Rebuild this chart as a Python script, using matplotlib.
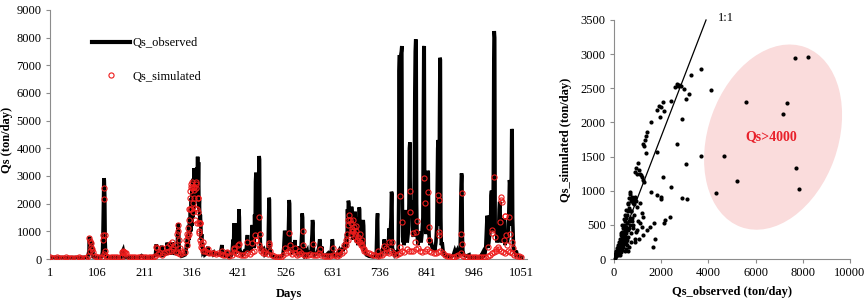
import numpy as np
import matplotlib
matplotlib.use("Agg")
import matplotlib.pyplot as plt
from matplotlib.patches import Ellipse
from matplotlib.lines import Line2D

plt.rcParams['font.family'] = ['Liberation Serif', 'DejaVu Serif']

# ---------------- data: time series ----------------
obs_days = [1, 40, 85, 88, 89, 90, 91, 92, 93, 94, 95, 96, 97, 100, 116, 118, 119, 120, 121, 122, 123, 124, 125, 127,
            160, 162, 164, 166, 168, 200, 205, 210, 230,
            236, 238, 239, 241, 243, 248, 250, 251, 255, 258, 261, 262, 263, 265, 266, 268, 269, 271, 272, 274, 275, 277, 278,
            281, 283, 284, 286, 287, 288, 289, 291, 294, 298,
            302, 304, 306, 308, 309, 310, 311, 312, 313, 314, 315, 316, 317, 318, 319, 320, 321, 322, 323, 324, 325, 326, 327,
            328, 329, 330, 331, 332, 333, 334, 335, 336, 337, 338, 339, 340, 341, 342, 344, 346,
            350, 352, 353, 354, 358, 365, 366, 372, 380, 383, 384, 385, 390, 395, 396, 402,
            405, 407, 409, 410, 411, 412, 413, 415, 416, 418, 419, 420, 421, 422, 423, 424, 427, 430, 434, 436, 438, 440, 441,
            442, 444, 446, 448, 449, 451, 452, 453, 455, 456, 457, 458, 459, 460, 461, 462, 463, 464, 465, 466, 467, 468, 469,
            470, 472, 474, 475, 478, 480, 484, 487, 489, 490, 491, 493, 498,
            515, 520, 522, 524, 525, 526, 528, 530, 532, 534, 535, 536, 538, 540, 541, 545, 547, 548, 552, 556, 557, 560, 562,
            563, 564, 565, 568, 569, 574, 575, 580, 583, 585, 586, 587, 588, 590, 596, 600, 602, 603, 604, 607, 608, 615, 620,
            622, 628, 630, 631, 632, 636, 640, 645, 647,
            650, 652, 654, 656, 657, 659, 660, 662, 663, 664, 665, 666, 667, 668, 669, 670, 671, 672, 673, 674, 675, 676, 677,
            678, 679, 680, 681, 682, 683, 684, 686, 687, 688, 689, 690, 691, 692, 693, 694, 695, 696, 697, 698, 699, 700, 701,
            703, 706, 712,
            720, 728, 730, 731, 732, 735, 740, 743, 744, 746, 747, 748, 750, 751, 754, 756, 757, 758, 761, 762, 763, 764, 766,
            768, 770, 772,
            775, 777, 778, 779, 780, 781, 782, 783, 784, 785, 786, 787, 788, 789, 790, 792, 793, 794, 795, 796, 797, 799, 800,
            801, 802, 803, 804, 805, 806, 807, 808, 809, 811, 812, 813, 814, 815, 816, 817, 818, 819, 821, 823, 825, 826, 828,
            830, 832, 833, 834, 835, 836, 837, 838, 839, 840, 841, 842, 843, 844, 845, 846, 848, 850, 852, 855, 857, 858, 861,
            863, 864, 865, 866, 867, 868, 869, 870, 871, 872, 873, 875, 877, 880, 885,
            895, 900, 903, 905, 908, 910, 915, 916, 917, 918, 919, 920, 921, 923, 928, 935, 936,
            960, 965, 966, 970, 972, 974, 975, 976, 977, 979, 981, 983, 984, 985, 986, 988, 989, 990, 991, 992, 993, 995, 996,
            997, 999, 1001, 1002, 1003, 1004, 1005, 1007, 1009, 1011, 1012, 1013, 1014, 1015, 1017, 1018, 1020, 1022, 1024,
            1025, 1026, 1027, 1029, 1030, 1031, 1032, 1034, 1036, 1038, 1040, 1042, 1046, 1052]
obs_vals = [60, 50, 60, 300, 806, 150, 700, 200, 550, 625, 150, 400, 80, 60, 80, 250, 850, 1800, 2916, 2850, 2300, 600, 200, 70,
            70, 250, 325, 150, 60, 60, 120, 60, 70,
            150, 530, 100, 300, 200, 150, 480, 100, 250, 180, 200, 590, 150, 580, 200, 560, 150, 590, 200, 600, 200, 400, 150,
            300, 500, 200, 1100, 1290, 800, 300, 200, 100, 120,
            150, 300, 600, 900, 400, 1230, 700, 1500, 900, 1800, 1000, 2200, 1200, 2555, 1500, 2900, 1800, 3278, 2000, 3200,
            2200, 3097, 2300, 3300, 2500, 3697, 2400, 3500, 1800, 2132, 1200, 1600, 1290, 700, 900, 400, 567, 250, 300, 150,
            200, 350, 444, 200, 180, 250, 150, 200, 150, 400, 506, 150, 120, 300, 100, 80,
            120, 300, 700, 400, 1290, 1200, 300, 450, 200, 600, 300, 1300, 700, 1795, 1500, 300, 250, 150, 200, 350, 250, 700,
            867, 300, 450, 250, 600, 300, 1100, 1229, 500, 900, 400, 1600, 800, 2800, 3120, 1500, 2000, 900, 2400, 1400, 3000,
            3722, 3600, 1000, 500, 300, 444, 200, 300, 150, 200, 400, 2216, 2150, 400, 150, 80,
            80, 150, 400, 1023, 900, 300, 500, 300, 800, 2132, 2000, 400, 300, 600, 250, 300, 686, 300, 200, 450, 150, 300, 900,
            1650, 1500, 300, 350, 150, 300, 150, 250, 300, 900, 1410, 1300, 300, 150, 200, 400, 711, 650, 200, 450, 150, 120,
            200, 100, 300, 711, 650, 150, 100, 150, 300, 150,
            200, 400, 300, 500, 350, 600, 400, 900, 500, 1800, 1200, 2108, 2000, 800, 1600, 900, 1400, 1000, 1890, 1700, 900,
            1400, 700, 1200, 800, 1500, 1710, 900, 1100, 600, 900, 500, 1500, 1000, 1870, 1800, 600, 900, 500, 700, 400, 1000,
            1300, 1410, 1200, 400, 250, 150, 100,
            80, 100, 1400, 1650, 300, 100, 150, 400, 300, 711, 500, 300, 650, 200, 300, 800, 1108, 400, 1500, 2433, 2350, 400,
            300, 200, 300, 150,
            150, 400, 2000, 6800, 7373, 3000, 5000, 7400, 7500, 7698, 2500, 800, 600, 900, 500, 800, 1500, 1771, 1600, 1200,
            600, 900, 1200, 2000, 4000, 4217, 2000, 1800, 2100, 1600, 1900, 1000, 800, 1500, 3000, 6000, 7500, 7940, 7800,
            2000, 900, 500, 800, 1000, 900, 600, 900, 1500, 5000, 7600, 7698, 2500, 1200, 1800, 900, 1500, 2200, 2800, 3191,
            3100, 1200, 800, 500, 700, 450, 300, 500, 250, 600, 1200, 2500, 4000, 4300, 4200, 1200, 5000, 7275, 7200, 1500,
            500, 600, 300, 150, 100,
            80, 150, 300, 200, 300, 120, 200, 1500, 2500, 3096, 3000, 800, 300, 150, 100, 150, 60,
            60, 220, 80, 150, 400, 1200, 1566, 1500, 400, 600, 900, 1500, 2300, 2470, 1200, 1000, 3000, 7000, 8240, 8000, 1200,
            1000, 1170, 600, 900, 1200, 1800, 2070, 2000, 600, 800, 700, 1000, 1400, 1470, 1300, 500, 900, 940, 600, 800, 2000,
            2855, 2700, 1200, 3000, 4700, 4600, 1500, 400, 300, 200, 300, 150, 100, 60]

# simulated: background values every 5 days (days 1, 6, ..., 1051)
sim_base_vals = [60, 50, 45, 55, 50, 45, 50, 55, 50, 45,
                 50, 45, 50, 55, 50, 45, 50, 120, 300, 250,
                 120, 80, 70, 80, 180, 120, 80, 70, 60, 55,
                 55, 60, 70, 250, 200, 90, 70, 60, 55, 60,
                 65, 70, 90, 80, 70, 75, 80, 100, 180, 200,
                 150, 220, 250, 280, 300, 350, 250, 200, 180, 220,
                 250, 500, 900, 1800, 2600, 2700, 2200, 1300, 600, 300,
                 250, 220, 200, 220, 180, 200, 180, 160, 150, 200,
                 120, 150, 250, 200, 180, 150, 140, 160, 200, 180,
                 250, 300, 700, 500, 300, 200, 220, 180, 300, 150,
                 100, 90, 80, 80, 150, 200, 300, 250, 180, 200,
                 150, 180, 200, 160, 150, 140, 170, 150, 130, 140,
                 200, 150, 120, 110, 100, 120, 130, 150, 110, 150,
                 200, 300, 500, 700, 900, 1000, 800, 700, 600, 500,
                 350, 250, 200, 180, 150, 140, 120, 160, 130, 200,
                 250, 200, 300, 200, 150, 180, 200, 300, 250, 350,
                 300, 280, 300, 350, 400, 300, 250, 300, 350, 300,
                 250, 200, 220, 250, 300, 200, 150, 120, 100, 90,
                 80, 100, 150, 200, 120, 90, 80, 70, 60, 60,
                 60, 55, 60, 70, 80, 100, 150, 200, 250, 300,
                 350, 300, 250, 200, 300, 250, 200, 150, 120, 100,
                 80]
sim_event_days = [89, 90, 92, 93, 95, 119, 120, 121, 122, 123, 124, 162, 164, 166, 168,
                  238, 239, 250, 262, 268, 272, 276, 280, 284, 286, 287, 288, 290, 292,
                  304, 306, 308, 309, 310, 311, 312, 313, 314, 315, 316, 317, 318, 319, 320, 321, 322, 323, 324, 325,
                  326, 327, 328, 329, 330, 331, 332, 333, 334, 335, 336, 337, 338, 340, 342,
                  353, 384, 395, 410, 411, 421, 422, 441, 452, 458, 460, 467, 468, 470, 478, 489, 490,
                  524, 534, 535, 547, 556, 564, 565, 587, 603, 631, 645,
                  656, 660, 662, 664, 666, 668, 670, 672, 673, 675, 676, 678, 680, 682, 684, 686, 688, 690, 692, 694,
                  696, 698, 700,
                  731, 746, 750, 757, 763, 780, 781, 785, 803, 804, 810, 815, 817, 818, 835, 836, 844, 845, 846,
                  866, 867, 868, 869,
                  918, 919, 920, 976, 986, 987, 991, 992, 995, 1000, 1004, 1005, 1006, 1008, 1012, 1015, 1016,
                  1018, 1020, 1023, 1026, 1030, 1032]
sim_event_vals = [760, 650, 580, 450, 350, 700, 850, 2566, 2168, 880, 300, 250, 300, 250, 200,
                  450, 400, 380, 420, 550, 600, 450, 500, 900, 1230, 1000, 700, 400, 300,
                  700, 900, 1108, 831, 1400, 1800, 1795, 2193, 2450, 2600, 2710, 2550, 2794, 2013, 1710, 2500, 2600,
                  2200, 1850, 1410, 2794, 2555, 1795, 1300, 1700, 2200, 1290, 928, 1000, 1300, 700, 567, 450, 400,
                  300,
                  350, 300, 250, 350, 400, 506, 550, 600, 567, 867, 700, 1507, 900, 400, 300, 567, 500,
                  400, 928, 500, 400, 300, 1012, 500, 550, 350, 400, 300,
                  500, 700, 900, 1229, 1400, 1590, 1410, 1300, 1100, 1000, 1410, 1150, 900, 1000, 1200, 700, 800, 600,
                  900, 500, 700, 400, 300,
                  300, 470, 400, 600, 625, 2288, 440, 1350, 2470, 1690, 928, 625, 986, 1384, 2938, 2035, 2410, 1146,
                  687, 2313, 880, 987, 2130,
                  893, 2374, 531, 444, 1048, 925, 2952, 800, 350, 450, 1350, 2230, 2150, 2070, 700, 1554, 1554,
                  867, 500, 1507, 904, 600, 400]

day_ticks = [1, 106, 211, 316, 421, 526, 631, 736, 841, 946, 1051]

# ---------------- data: scatter ----------------
scatter_obs = [7669, 8234, 5593, 7345, 7147, 4647, 7698, 5226, 4308, 7853,
               3701, 4110, 3249, 3178, 3051, 2980, 2768, 2585, 2670, 2720, 2850, 2415, 2895, 1949, 2006, 1907, 1808,
               2062, 2119, 1568, 1398, 1356, 1328, 1243, 1280, 2684, 3701, 3037, 1808, 1356, 2062, 2415, 2867, 3079,
               1568, 1808, 1977, 2000, 2359, 2161, 2130, 1695, 1525, 1737, 1638, 1243, 1384, 1003, 932, 890, 960,
               1158, 1243, 1100, 1059, 1200, 1271,
               678, 749, 890, 819, 607, 960, 1102, 1172, 1243, 1102, 960, 1172,
               30, 50, 60, 80, 100, 100, 120, 140, 150, 160, 180, 190, 200, 210, 220, 230, 240, 250, 260, 270, 280,
               290, 300, 310, 320, 330, 340, 350, 360, 370, 380, 390, 400, 410, 420, 430, 440, 450, 460, 470, 480,
               490, 500, 510, 520, 540, 550, 560, 580, 600, 600, 620, 640, 650, 670, 690, 700, 720, 740, 760, 780,
               800, 820, 850, 880, 900, 950, 1000, 1050, 700, 650, 600, 550, 500, 450, 400, 350, 300, 250, 200,
               150, 80, 40, 20, 10, 620, 680, 580, 520, 480, 420, 360, 700, 750, 800, 850, 900, 950]
scatter_sim = [2939, 2953, 2294, 2285, 2123, 1503, 1338, 1142, 962, 1020,
               2782, 2475, 2690, 2411, 2348, 2490, 2548, 2514, 2558, 2530, 2540, 2314, 2050, 2075, 2221, 2240, 2181,
               2294, 2172, 2001, 1865, 1800, 1743, 1684, 1660, 1684, 1513, 1386, 1562, 1552, 1206, 1054, 898, 879,
               986, 942, 913, 880, 615, 566, 520, 522, 473, 288, 176, 351, 425, 1401, 1328, 1279, 1250,
               1230, 1157, 1250, 1303, 1206, 1133,
               986, 913, 913, 864, 815, 766, 815, 669, 620, 522, 425, 473,
               40, 30, 80, 60, 120, 50, 90, 160, 100, 60, 200, 140, 90, 250, 180, 120, 60, 300, 220, 160, 100,
               350, 260, 200, 130, 400, 300, 230, 170, 450, 350, 260, 180, 500, 380, 300, 220, 120, 560, 430, 330,
               250, 600, 470, 380, 280, 650, 520, 420, 320, 700, 560, 460, 750, 600, 500, 850, 380, 700, 900, 560,
               820, 450, 650, 300, 250, 400, 550, 300, 250, 180, 120, 200, 150, 300, 400, 320, 380, 200, 150,
               180, 100, 20, 10, 5, 900, 950, 800, 720, 640, 580, 500, 700, 600, 500, 800, 900, 850]

obs_ticks = [0, 2000, 4000, 6000, 8000, 10000]
sim_ticks = [0, 500, 1000, 1500, 2000, 2500, 3000, 3500]

# ---------------- figure ----------------
fig = plt.figure(figsize=(8.64, 3.04), dpi=100)
spine_col = '#8c8c8c'
fs = 9
red = '#ee1c1c'

ax1 = fig.add_axes([50 / 864, 45 / 304, 477 / 864, 249 / 304])
ax1.plot(obs_days, obs_vals, color='black', lw=2.6, solid_joinstyle='miter', zorder=2)
sim_base_days = np.arange(1, 1052, 5)
sim_days_all = np.concatenate([sim_base_days, sim_event_days])
sim_vals_all = np.concatenate([sim_base_vals, sim_event_vals])
ax1.plot(sim_days_all, sim_vals_all, ls='none', marker='o', ms=3.7, mfc='none', mec=red, mew=0.8, zorder=3)
ax1.set_xlim(1, 1064)
ax1.set_ylim(0, 9000)
ax1.set_yticks(range(0, 9001, 1000))
ax1.set_xticks(day_ticks)
ax1.set_xticklabels([str(d) for d in day_ticks])
for s in ['top', 'right']:
    ax1.spines[s].set_visible(False)
for s in ['left', 'bottom']:
    ax1.spines[s].set_color(spine_col)
ax1.tick_params(axis='both', labelsize=fs, colors='black', length=3, width=0.8, direction='out', pad=3)
ax1.tick_params(axis='x', color=spine_col, length=0, pad=6)
ax1.tick_params(axis='y', color=spine_col)
ax1.set_xlabel('Days', fontsize=fs, fontweight='bold', labelpad=6)
fig.text(7 / 864, 0.54, 'Qs (ton/day)', rotation=90, fontsize=fs, fontweight='bold', ha='center', va='center')

leg_handles = [Line2D([], [], color='black', lw=3),
               Line2D([], [], ls='none', marker='o', ms=3.7, mfc='none', mec=red, mew=0.8)]
ax1.legend(leg_handles, ['Qs_observed', 'Qs_simulated'], loc='upper left', bbox_to_anchor=(0.065, 0.935),
           frameon=False, fontsize=fs, handlelength=3.0, handletextpad=0.2, labelspacing=1.7)

# ---------------- right panel ----------------
ax2 = fig.add_axes([614 / 864, 45 / 304, 236 / 864, 239 / 304])
ell = Ellipse((0.674, 0.51), 0.80, 0.55, angle=70, transform=ax2.transAxes,
              facecolor='#fadcdc', edgecolor='none', zorder=0)
ax2.add_patch(ell)
ax2.plot([0, 3900], [0, 3500], color='black', lw=0.9, zorder=2, clip_on=False)
ax2.scatter(scatter_obs, scatter_sim, s=9, color='black', zorder=3, linewidths=0)
ax2.text(4750, 3530, '1:1', fontsize=fs, ha='center', va='center')
ax2.text(0.665, 0.51, 'Qs>4000', transform=ax2.transAxes, color='#e8202a', fontsize=10,
         fontweight='bold', ha='center', va='center')
ax2.set_xlim(0, 10000)
ax2.set_ylim(0, 3500)
ax2.set_xticks(obs_ticks)
ax2.set_yticks(sim_ticks)
for s in ['top', 'right']:
    ax2.spines[s].set_visible(False)
for s in ['left', 'bottom']:
    ax2.spines[s].set_color(spine_col)
ax2.tick_params(axis='both', labelsize=fs, colors='black', length=3, width=0.8, direction='out', pad=3)
ax2.tick_params(axis='both', color=spine_col)
ax2.set_xlabel('Qs_observed (ton/day)', fontsize=fs, fontweight='bold', labelpad=5)
ax2.set_ylabel('Qs_simulated (ton/day)', fontsize=fs, fontweight='bold', labelpad=6)

fig.savefig('out.png', dpi=100)
